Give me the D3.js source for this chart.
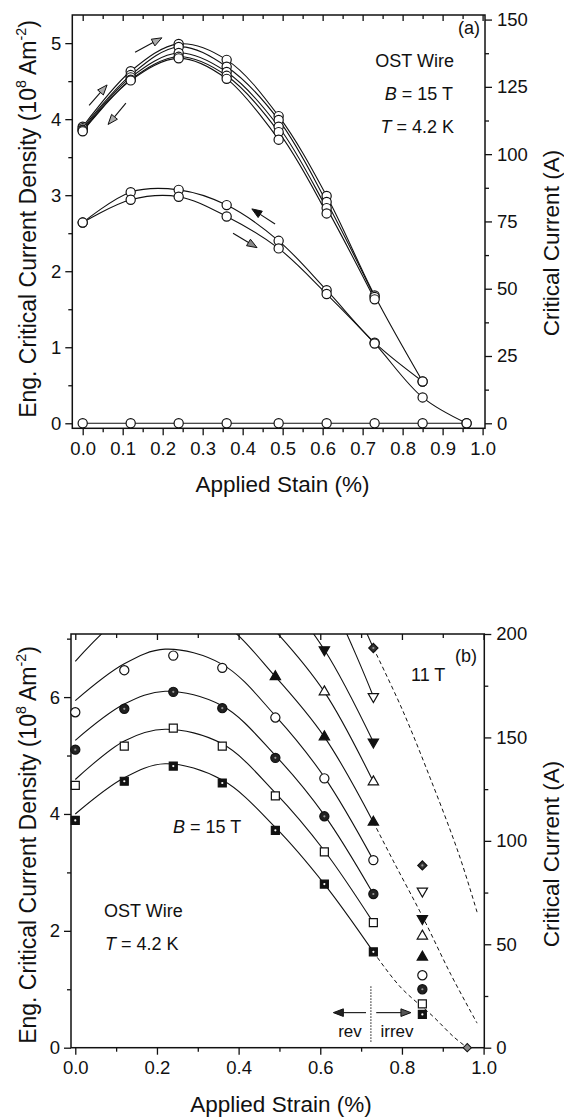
<!DOCTYPE html>
<html>
<head>
<meta charset="utf-8">
<script src="https://cdn.jsdelivr.net/npm/d3@7"></script>
<style>
  body { margin: 0; background: #fff; }
  svg text { font-family: "Liberation Sans", Arial, Helvetica, sans-serif; fill: #111; }
</style>
</head>
<body>
<div id="chart"></div>
<script>
// ── Data: panel (a), cycling at B = 15 T ────────────────────────────────
const strainA = [0, 0.12, 0.24, 0.36, 0.49, 0.61, 0.73, 0.85, 0.96];
const jcUp1 = [3.90, 4.63, 4.99, 4.78, 4.04, 2.99, 1.68, 0.55];
const jcUp2 = [3.88, 4.58, 4.95, 4.69, 3.99, 2.91, 1.66];
const jcUp3 = [3.86, 4.55, 4.87, 4.62, 3.90, 2.83, 1.63];
const jcUp4 = [3.85, 4.52, 4.82, 4.57, 3.83, 2.76];
const jcUp5 = [3.84, 4.51, 4.80, 4.53, 3.73];
const jcUnload = [2.64, 3.04, 3.07, 2.87, 2.40, 1.75, 1.06, 0.55];
const jcReload = [2.64, 2.94, 2.98, 2.72, 2.30, 1.70, 1.05, 0.34, 0];
const jcBroken = [0, 0, 0, 0, 0, 0, 0, 0, 0];

// ── Data: panel (b), field dependence ───────────────────────────────────
const strainB = [0, 0.12, 0.24, 0.36, 0.49, 0.61, 0.73, 0.85];
const fieldsB = ["15", "14.5", "14", "13.5", "13", "12.5", "12", "11.5", "11"];
const jcB15 = [3.89, 4.56, 4.82, 4.53, 3.72, 2.80, 1.64, 0.57];
const jcB145 = [4.49, 5.16, 5.47, 5.16, 4.31, 3.35, 2.14, 0.75];
const jcB14 = [5.10, 5.80, 6.09, 5.81, 4.96, 3.96, 2.63, 1.00];
const jcB135 = [5.74, 6.46, 6.71, 6.50, 5.65, 4.61, 3.21, 1.24];
const jcB13 = [null, null, null, null, 6.35, 5.32, 3.86, 1.55];
const jcB125 = [null, null, null, null, null, 6.09, 4.55, 1.91];
const jcB12 = [null, null, null, null, null, 6.81, 5.23, 2.21];
const jcB115 = [null, null, null, null, null, null, 6.01, 2.68];
const jcB11 = [null, null, null, null, null, null, 6.84, 3.12];
const brokenB = [[0.96, 0]];

// fitted curves, solid in the reversible range
const fit15 = [[0, 4.00], [0.12, 4.62], [0.22, 4.86], [0.36, 4.58], [0.49, 3.77], [0.61, 2.80], [0.73, 1.64]];
const fit145 = [[0, 4.59], [0.12, 5.25], [0.22, 5.45], [0.36, 5.20], [0.49, 4.36], [0.61, 3.37], [0.73, 2.14]];
const fit14 = [[0, 5.26], [0.12, 5.88], [0.22, 6.10], [0.36, 5.85], [0.49, 5.00], [0.61, 3.98], [0.73, 2.63]];
const fit135 = [[0, 5.94], [0.12, 6.57], [0.22, 6.82], [0.36, 6.56], [0.49, 5.68], [0.61, 4.63], [0.73, 3.21]];
const fit13 = [[0, 6.61], [0.12, 7.40], [0.22, 7.60], [0.36, 7.27], [0.49, 6.35], [0.61, 5.32], [0.73, 3.86]];
const fit125 = [[0.12, 8.10], [0.24, 8.35], [0.36, 8.02], [0.49, 7.13], [0.61, 6.09], [0.73, 4.55]];
const fit12 = [[0.24, 9.10], [0.36, 8.80], [0.49, 7.90], [0.61, 6.81], [0.73, 5.23]];
const fit115 = [[0.36, 9.70], [0.49, 8.95], [0.61, 7.85], [0.73, 6.01]];
const fit11 = [[0.49, 9.70], [0.61, 8.55], [0.73, 6.84]];
// dashed extrapolations into the irreversible range
const dash15 = [[0.73, 1.64], [0.796, 1.04], [0.877, 0.53], [0.926, 0.19], [0.96, 0.0]];
const dash13 = [[0.73, 3.86], [0.78, 3.18], [0.85, 2.25], [0.92, 1.25], [0.984, 0.42]];
const dash11 = [[0.73, 6.84], [0.80, 5.80], [0.87, 4.60], [0.94, 3.30], [0.984, 2.32]];

// tick values
const xTicksA = d3.range(0, 1.0001, 0.1);
const xMinorA = d3.range(0.05, 1.0, 0.1);
const yTicksA = [0, 1, 2, 3, 4, 5];
const yMinorA = [0.5, 1.5, 2.5, 3.5, 4.5];
const icTicksA = [0, 25, 50, 75, 100, 125, 150];
const icMinorA = [12.5, 37.5, 62.5, 87.5, 112.5, 137.5];
const xTicksB = [0, 0.2, 0.4, 0.6, 0.8, 1.0];
const xMinorB = [0.1, 0.3, 0.5, 0.7, 0.9];
const yTicksB = [0, 2, 4, 6];
const yMinorB = [1, 3, 5, 7];
const icTicksB = [0, 50, 100, 150, 200];
const icMinorB = [25, 75, 125, 175];

const IC_PER_JC = 28.25; // A per 10^8 A/m^2

// ── SVG ────────────────────────────────────────────────────────────────
const svg = d3.select("#chart").append("svg")
  .attr("width", 564).attr("height", 1119)
  .style("background", "#fff");

const INK = "#111";

// ── Scales ─────────────────────────────────────────────────────────────
const xA = d3.scaleLinear().domain([-0.026, 1.006]).range([72.3, 485]);
const yA = d3.scaleLinear().domain([-0.066, 5.37]).range([428.3, 15]);
const yA2 = d3.scaleLinear().domain([-0.066 * IC_PER_JC, 5.37 * IC_PER_JC]).range([428.3, 15]);

const xB = d3.scaleLinear().domain([-0.0105, 1.0017]).range([71, 484.3]);
const yB = d3.scaleLinear().domain([0, 200 / IC_PER_JC]).range([1047.7, 634]);
const yB2 = d3.scaleLinear().domain([0, 200]).range([1047.7, 634]);

// ── Frame + axes helper ────────────────────────────────────────────────
function styleAxis(sel, fontSize) {
  sel.select(".domain").remove();
  sel.selectAll(".tick line").attr("stroke", INK).attr("stroke-width", 1.3);
  sel.selectAll(".tick text").attr("font-size", fontSize).attr("fill", INK)
    .style("font-family", "'Liberation Sans', Arial, sans-serif");
}

function drawFrame(x, y, y2, t) {
  const [x0, x1] = x.range();
  const [yb, yt] = y.range();
  const g = svg.append("g");

  g.append("g").attr("transform", `translate(0,${yb})`)
    .call(d3.axisBottom(x).tickValues(t.xMajor).tickSize(7).tickPadding(6.5)
      .tickFormat(d3.format(".1f")))
    .call(styleAxis, 18.5);
  g.append("g").attr("transform", `translate(0,${yb})`)
    .call(d3.axisBottom(x).tickValues(t.xMinor).tickSize(4).tickFormat(""))
    .call(styleAxis, 18.5);
  // top ticks point inward
  g.append("g").attr("transform", `translate(0,${yt})`)
    .call(d3.axisTop(x).tickValues(t.xMajor).tickSize(-6).tickFormat(""))
    .call(styleAxis, 18.5);
  g.append("g").attr("transform", `translate(0,${yt})`)
    .call(d3.axisTop(x).tickValues(t.xMinor).tickSize(-4).tickFormat(""))
    .call(styleAxis, 18.5);

  g.append("g").attr("transform", `translate(${x0},0)`)
    .call(d3.axisLeft(y).tickValues(t.yMajor).tickSize(7).tickPadding(4).tickFormat(d3.format("d")))
    .call(styleAxis, 18.5);
  g.append("g").attr("transform", `translate(${x0},0)`)
    .call(d3.axisLeft(y).tickValues(t.yMinor).tickSize(4).tickFormat(""))
    .call(styleAxis, 18.5);

  g.append("g").attr("transform", `translate(${x1},0)`)
    .call(d3.axisRight(y2).tickValues(t.icMajor).tickSize(7).tickPadding(5).tickFormat(d3.format("d")))
    .call(styleAxis, 18.5);
  g.append("g").attr("transform", `translate(${x1},0)`)
    .call(d3.axisRight(y2).tickValues(t.icMinor).tickSize(4).tickFormat(""))
    .call(styleAxis, 18.5);

  g.append("rect")
    .attr("x", x0).attr("y", yt)
    .attr("width", x1 - x0).attr("height", yb - yt)
    .attr("fill", "none").attr("stroke", INK).attr("stroke-width", 1.5);
  return g;
}

function rotatedTitle(xPos, yPos, parts, size) {
  const t = svg.append("text")
    .attr("transform", `translate(${xPos},${yPos}) rotate(-90)`)
    .attr("text-anchor", "middle")
    .attr("font-size", size);
  parts.forEach((p) => {
    const s = t.append("tspan").text(p.text);
    if (p.sup) s.attr("font-size", size * 0.62).attr("dy", -size * 0.42);
    if (p.down) s.attr("dy", size * 0.42);
  });
  return t;
}

function label(xPos, yPos, parts, anchor, size) {
  const t = svg.append("text").attr("x", xPos).attr("y", yPos)
    .attr("text-anchor", anchor).attr("font-size", size);
  parts.forEach((p) => {
    const s = t.append("tspan").text(p.text);
    if (p.italic) s.attr("font-style", "italic");
  });
  return t;
}

function arrow(g, x, y, a, fill) {
  const x1 = x(a.from[0]), y1 = y(a.from[1]);
  const x2 = x(a.to[0]), y2 = y(a.to[1]);
  const ang = Math.atan2(y2 - y1, x2 - x1);
  const L = 10, W = 3.8;
  const bx = x2 - L * Math.cos(ang), by = y2 - L * Math.sin(ang);
  g.append("line").attr("x1", x1).attr("y1", y1).attr("x2", bx).attr("y2", by)
    .attr("stroke", INK).attr("stroke-width", 1.1);
  const px = -Math.sin(ang) * W, py = Math.cos(ang) * W;
  g.append("polygon")
    .attr("points", `${x2},${y2} ${bx + px},${by + py} ${bx - px},${by - py}`)
    .attr("fill", fill).attr("stroke", INK).attr("stroke-width", 1);
}

const zipPts = (xs, ys) => ys.map((v, i) => [xs[i], v]).filter((d) => d[1] != null);

// ── Panel (a) ──────────────────────────────────────────────────────────
drawFrame(xA, yA, yA2, {
  xMajor: xTicksA, xMinor: xMinorA, yMajor: yTicksA, yMinor: yMinorA,
  icMajor: icTicksA, icMinor: icMinorA,
});

svg.append("clipPath").attr("id", "clipA").append("rect")
  .attr("x", 72.3).attr("y", 15).attr("width", 485 - 72.3).attr("height", 428.3 - 15);

const lineA = d3.line().x((d) => xA(d[0])).y((d) => yA(d[1]))
  .curve(d3.curveCatmullRom.alpha(0.5));

const seriesA = [jcUp1, jcUp2, jcUp3, jcUp4, jcUp5, jcUnload, jcReload, jcBroken];
const gA = svg.append("g").attr("clip-path", "url(#clipA)");

gA.selectAll(".lineA").data(seriesA).join("path")
  .attr("class", "lineA")
  .attr("d", (s) => lineA(zipPts(strainA, s)))
  .attr("fill", "none").attr("stroke", INK).attr("stroke-width", 1.1);

seriesA.forEach((s) => {
  gA.append("g").selectAll("circle").data(zipPts(strainA, s)).join("circle")
    .attr("cx", (d) => xA(d[0])).attr("cy", (d) => yA(d[1])).attr("r", 4.6)
    .attr("fill", "#fff").attr("stroke", INK).attr("stroke-width", 1.2);
});

const arrowsA = [
  { from: [0.131, 4.88], to: [0.198, 5.07], fill: "#aaa" },
  { from: [0.016, 4.18], to: [0.061, 4.45], fill: "#aaa" },
  { from: [0.108, 4.21], to: [0.0635, 3.93], fill: "#aaa" },
  { from: [0.481, 2.62], to: [0.423, 2.82], fill: "#111" },
  { from: [0.376, 2.50], to: [0.436, 2.31], fill: "#888" },
];
arrowsA.forEach((a) => arrow(svg, xA, yA, a, a.fill));

label(480, 34, [{ text: "(a)" }], "end", 18);
label(454, 66.5, [{ text: "OST Wire" }], "end", 18);
label(453, 99.5, [{ text: "B", italic: true }, { text: " = 15 T" }], "end", 18);
label(454, 132.5, [{ text: "T", italic: true }, { text: " = 4.2 K" }], "end", 18);

label(282.5, 491.5, [{ text: "Applied Stain (%)" }], "middle", 22.5);
rotatedTitle(36, 219, [
  { text: "Eng. Critical Current Density (10" }, { text: "8", sup: true },
  { text: " Am", down: true }, { text: "-2", sup: true }, { text: ")", down: true },
], 23);
rotatedTitle(559, 243, [{ text: "Critical Current (A)" }], 22.5);

// ── Panel (b) ──────────────────────────────────────────────────────────
drawFrame(xB, yB, yB2, {
  xMajor: xTicksB, xMinor: xMinorB, yMajor: yTicksB, yMinor: yMinorB,
  icMajor: icTicksB, icMinor: icMinorB,
});

svg.append("clipPath").attr("id", "clipB").append("rect")
  .attr("x", 71).attr("y", 634).attr("width", 484.3 - 71).attr("height", 1047.7 - 634);

const lineB = d3.line().x((d) => xB(d[0])).y((d) => yB(d[1]))
  .curve(d3.curveCatmullRom.alpha(0.5));
const gB = svg.append("g").attr("clip-path", "url(#clipB)");

const fitsB = [fit15, fit145, fit14, fit135, fit13, fit125, fit12, fit115, fit11];
gB.selectAll(".fitB").data(fitsB).join("path")
  .attr("class", "fitB").attr("d", lineB)
  .attr("fill", "none").attr("stroke", INK).attr("stroke-width", 1.1);

gB.selectAll(".dashB").data([dash15, dash13, dash11]).join("path")
  .attr("class", "dashB").attr("d", lineB)
  .attr("fill", "none").attr("stroke", INK).attr("stroke-width", 1)
  .attr("stroke-dasharray", "4,3");

// rev / irrev boundary
gB.append("line")
  .attr("x1", xB(0.724)).attr("x2", xB(0.724))
  .attr("y1", yB(1.05)).attr("y2", yB(0.1))
  .attr("stroke", INK).attr("stroke-width", 1).attr("stroke-dasharray", "1.5,1.5");
arrow(svg, xB, yB, { from: [0.712, 0.60], to: [0.632, 0.60] }, "#222");
arrow(svg, xB, yB, { from: [0.737, 0.60], to: [0.822, 0.60] }, "#555");

// markers
const markerStyle = {
  "15": { type: d3.symbolSquare, size: 64, fill: "#111", dot: "#fff" },
  "14.5": { type: d3.symbolSquare, size: 64, fill: "#fff" },
  "14": { type: d3.symbolCircle, size: 66, fill: "#222", dot: "#999" },
  "13.5": { type: d3.symbolCircle, size: 66, fill: "#fff" },
  "13": { type: d3.symbolTriangle, size: 46, fill: "#111" },
  "12.5": { type: d3.symbolTriangle, size: 46, fill: "#fff" },
  "12": { type: d3.symbolTriangle, size: 46, fill: "#111", rot: 180 },
  "11.5": { type: d3.symbolTriangle, size: 46, fill: "#fff", rot: 180 },
  "11": { type: d3.symbolSquare, size: 42, fill: "#333", dot: "#999", rot: 45 },
};
const valuesB = [jcB15, jcB145, jcB14, jcB135, jcB13, jcB125, jcB12, jcB115, jcB11];

fieldsB.forEach((f, i) => {
  const st = markerStyle[f];
  const pts = zipPts(strainB, valuesB[i]);
  const mg = svg.append("g");
  mg.selectAll("path").data(pts).join("path")
    .attr("d", d3.symbol().type(st.type).size(st.size))
    .attr("transform", (d) => `translate(${xB(d[0])},${yB(d[1])}) rotate(${st.rot || 0})`)
    .attr("fill", st.fill).attr("stroke", INK).attr("stroke-width", 1.2);
  if (st.dot) {
    mg.selectAll("circle").data(pts).join("circle")
      .attr("cx", (d) => xB(d[0])).attr("cy", (d) => yB(d[1])).attr("r", 1.1)
      .attr("fill", st.dot);
  }
});

svg.append("g").selectAll("path").data(brokenB).join("path")
  .attr("d", d3.symbol().type(d3.symbolSquare).size(34))
  .attr("transform", (d) => `translate(${xB(d[0])},${yB(d[1])}) rotate(45)`)
  .attr("fill", "#888").attr("stroke", INK).attr("stroke-width", 1);

label(477, 662, [{ text: "(b)" }], "end", 18);
label(411, 680.5, [{ text: "11 T" }], "start", 18);
label(173, 833, [{ text: "B", italic: true }, { text: " = 15 T" }], "start", 18);
label(104, 917, [{ text: "OST Wire" }], "start", 18);
label(105, 950, [{ text: "T", italic: true }, { text: " = 4.2 K" }], "start", 18);
label(350, 1036.5, [{ text: "rev" }], "middle", 17);
label(397, 1036.5, [{ text: "irrev" }], "middle", 17);

label(281, 1111.5, [{ text: "Applied Strain (%)" }], "middle", 22.5);
rotatedTitle(36, 845, [
  { text: "Eng. Critical Current Density (10" }, { text: "8", sup: true },
  { text: " Am", down: true }, { text: "-2", sup: true }, { text: ")", down: true },
], 23);
rotatedTitle(559, 854, [{ text: "Critical Current (A)" }], 22.5);
</script>
</body>
</html>
